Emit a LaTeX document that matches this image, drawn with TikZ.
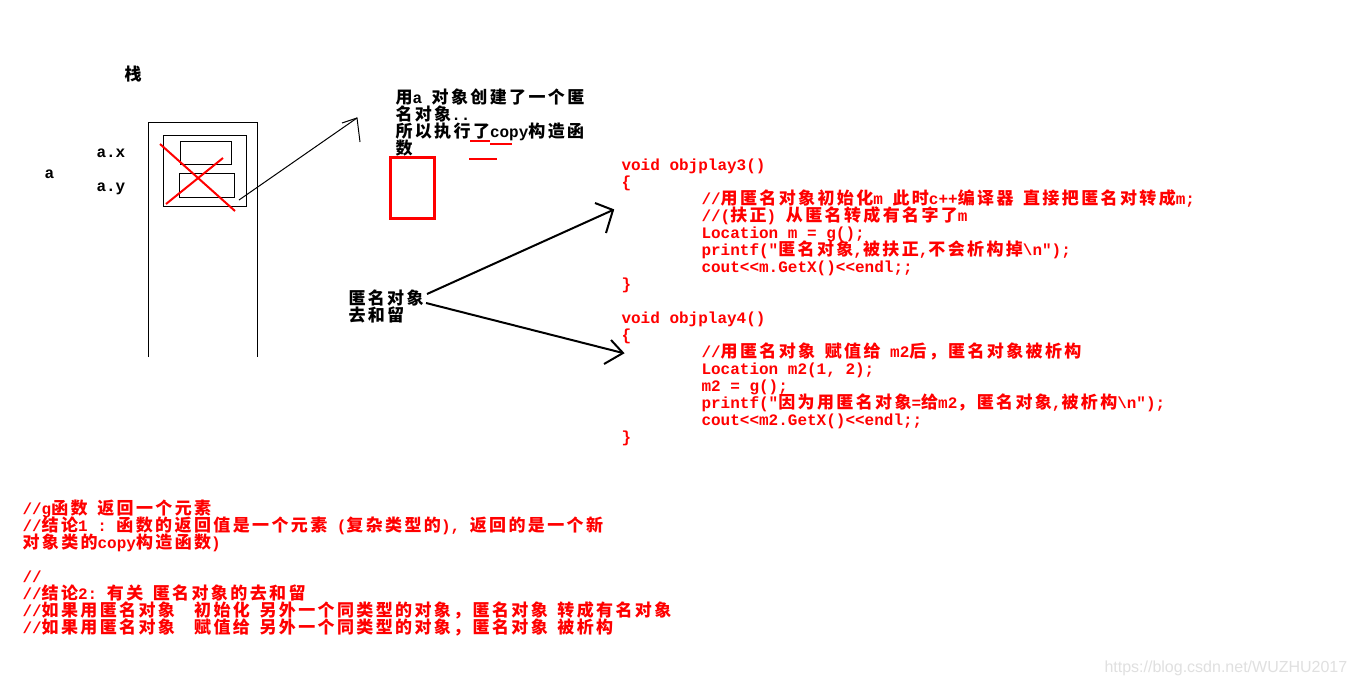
\documentclass[tikz,border=0pt]{standalone}
\usepackage{fontspec}
\setmonofont{Liberation Mono}
\newfontfamily\cjk{Noto Sans CJK SC}[Scale=1.0625,LetterSpace=14]
\newfontfamily\wmfont{Liberation Sans}
\newcommand\codefont{\fontsize{16}{17}\selectfont\lineskiplimit=-20pt\lineskip=0pt\ttfamily\bfseries}
\newcommand\zh[1]{{\cjk #1}}
\newcommand\codeind{\hspace*{80pt}}

\begin{document}
\begin{tikzpicture}[x=1pt,y=-1pt,line width=1pt,
    every node/.style={inner sep=0pt},
    txt/.style={font=\codefont,align=left,anchor=base west},
    redtxt/.style={txt,text=red},
    redline/.style={draw=red,line width=2pt}]
  \fill[white] (0,0) rectangle (1356,686);
  \useasboundingbox (0,0) rectangle (1356,686);
  % stack
  \node[font=\codefont] (stk) at (133,74) {\zh{栈}};
  \draw (148,357) |- (257,122) -- (257,357);
  \draw (163,135) rectangle (246,206);
  \draw (180,141) rectangle (231,164);
  \draw (179,173) rectangle (234,197);
  \node[txt] (ax) at (96,157) {a.x};
  \node[txt] (ay) at (96,191) {a.y};
  \node[txt] (a) at (44,178) {a};
  \draw[redline] (160,144) -- (235,211);
  \draw[redline] (166,204) -- (223,158);
  % copy to the anonymous object
  \coordinate (a1) at (239,200);
  \coordinate (t1) at (357,118);
  \draw (a1) -- (t1);
  \draw (t1) ++(-15,5) -- (t1) -- ++(3,24);
  \node[txt] (note) at (395,154) {\zh{用}a \zh{对象创建了一个匿}\\
    \zh{名对象}..\\
    \zh{所以执行了}copy\zh{构造函}\\
    \zh{数}};
  \draw[red,line width=1.2pt] (470,141) -- (490,141) (490,144) -- (512,144);
  \draw[red,line width=1.2pt] (469,159) -- (497,159);
  \node[draw=red,line width=3pt,minimum width=44pt,minimum height=61pt] (anonobj) at (412.5,188) {};
  % where the anonymous object goes
  \node[txt] (anon) at (348,321) {\zh{匿名对象}\\\zh{去和留}};
  \coordinate (g1) at (427,294);
  \coordinate (g2) at (426,303);
  \coordinate (t2) at (613,210);
  \coordinate (t3) at (623,353);
  \draw[line width=2pt] (g1) -- (t2);
  \draw[line width=2pt] (t2) ++(-18,-7) -- (t2) -- ++(-7,23);
  \draw[line width=2pt] (g2) -- (t3);
  \draw[line width=2pt] (t3) ++(-12,-13) -- (t3) -- ++(-19,11);
  % code
  \node[redtxt] (play3) at (621,289) {void objplay3()\\
    \{\\
    \codeind//\zh{用匿名对象初始化}m \zh{此时}c++\zh{编译器} \zh{直接把匿名对转成}m;\\
    \codeind//(\zh{扶正}) \zh{从匿名转成有名字了}m\\
    \codeind Location m = g();\\
    \codeind printf("\zh{匿名对象},\zh{被扶正},\zh{不会析构掉}\textbackslash n");\\
    \codeind cout<<m.GetX()<<endl;;\\
    \}};
  \node[redtxt] (play4) at (621,442) {void objplay4()\\
    \{\\
    \codeind//\zh{用匿名对象} \zh{赋值给} m2\zh{后，匿名对象被析构}\\
    \codeind Location m2(1, 2);\\
    \codeind m2 = g();\\
    \codeind printf("\zh{因为用匿名对象}=\zh{给}m2\zh{，匿名对象},\zh{被析构}\textbackslash n");\\
    \codeind cout<<m2.GetX()<<endl;;\\
    \}};
  % conclusions
  \node[redtxt] (concl) at (22,633) {//g\zh{函数} \zh{返回一个元素}\\
    //\zh{结论}1 : \zh{函数的返回值是一个元素} (\zh{复杂类型的}), \zh{返回的是一个新}\\
    \zh{对象类的}copy\zh{构造函数})\\[17pt]
    //\\
    //\zh{结论}2: \zh{有关} \zh{匿名对象的去和留}\\
    //\zh{如果用匿名对象}\ \ \zh{初始化} \zh{另外一个同类型的对象，匿名对象} \zh{转成有名对象}\\
    //\zh{如果用匿名对象}\ \ \zh{赋值给} \zh{另外一个同类型的对象，匿名对象} \zh{被析构}};
  \node[font=\wmfont\fontsize{16}{19}\selectfont,text=black!12,anchor=base west] (wm) at (1104,672) {https://blog.csdn.net/WUZHU2017};
\end{tikzpicture}
\end{document}
